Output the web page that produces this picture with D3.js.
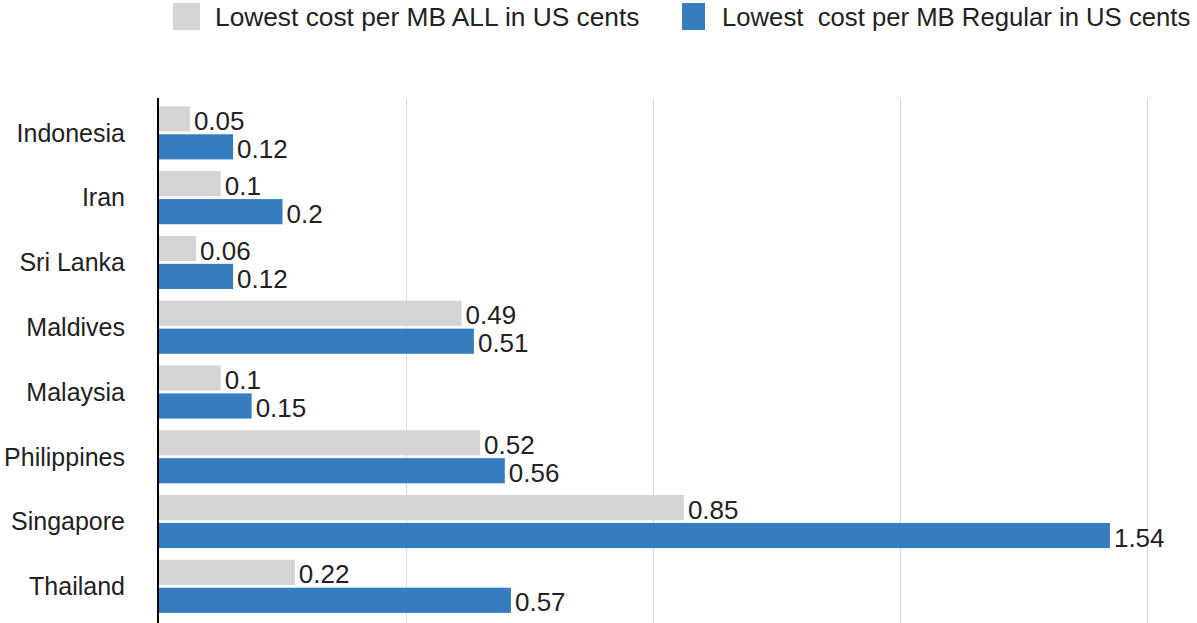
<!DOCTYPE html>
<html>
<head>
<meta charset="utf-8">
<script src="https://cdn.jsdelivr.net/npm/d3@7"></script>
<style>
    body { margin: 0; background: #fff; }
    svg { font-family: "Liberation Sans", Helvetica, Arial, sans-serif; }
    text { fill: #222; white-space: pre; }
</style>
</head>
<body>
<div id="chartDiv"></div>
<script>

var countries = ["Indonesia", "Iran", "Sri Lanka", "Maldives", "Malaysia", "Philippines", "Singapore", "Thailand"];
var costAll = [0.05, 0.1, 0.06, 0.49, 0.1, 0.52, 0.85, 0.22];
var costRegular = [0.12, 0.2, 0.12, 0.51, 0.15, 0.56, 1.54, 0.57];
var seriesNames = ["Lowest cost per MB ALL in US cents", "Lowest  cost per MB Regular in US cents"];
var seriesColors = ["#d4d4d4", "#367dc0"];
var gridTicks = [0.4, 0.8, 1.2, 1.6];

var width = 1197,
    height = 623;

var svg = d3.select("#chartDiv").append("svg")
    .attr("width", width)
    .attr("height", height);

var x = d3.scaleLinear()
    .domain([0, 1.6])
    .range([159, 1147]);

var y = d3.scaleBand()
    .domain(countries)
    .range([100.5, 618.7])
    .paddingInner(0.18)
    .paddingOuter(0.09);

var keys = ["all", "regular"];
var y1 = d3.scaleBand()
    .domain(keys)
    .range([0, y.bandwidth()])
    .paddingInner(0.1);

var data = countries.map(function (c, i) {
    return { country: c, all: costAll[i], regular: costRegular[i] };
});

// grid lines
svg.append("g")
    .attr("class", "grid")
    .selectAll("line")
    .data(gridTicks)
    .enter()
    .append("line")
    .attr("x1", function (d) { return Math.round(x(d)) + 0.5; })
    .attr("x2", function (d) { return Math.round(x(d)) + 0.5; })
    .attr("y1", 98)
    .attr("y2", height)
    .style("stroke", "#d9d9d9")
    .style("stroke-width", 1);

// bars
var groups = svg.selectAll(".group")
    .data(data)
    .enter()
    .append("g")
    .attr("class", "group")
    .attr("transform", function (d) { return "translate(0," + y(d.country) + ")"; });

groups.selectAll("rect")
    .data(function (d) {
        return keys.map(function (k, i) { return { key: k, value: d[k], idx: i }; });
    })
    .enter()
    .append("rect")
    .attr("x", x(0))
    .attr("y", function (d) { return y1(d.key); })
    .attr("height", y1.bandwidth())
    .attr("width", function (d) { return x(d.value) - x(0); })
    .style("fill", function (d) { return seriesColors[d.idx]; });

groups.selectAll(".val")
    .data(function (d) {
        return keys.map(function (k) { return { key: k, value: d[k] }; });
    })
    .enter()
    .append("text")
    .attr("class", "val")
    .attr("x", function (d) { return x(d.value) + 4; })
    .attr("y", function (d) { return y1(d.key) + y1.bandwidth() / 2 + 2; })
    .attr("dy", "0.35em")
    .style("font-size", "26px")
    .text(function (d) { return d.value; });

// y axis line
svg.append("line")
    .attr("x1", 158)
    .attr("x2", 158)
    .attr("y1", 98)
    .attr("y2", height)
    .style("stroke", "#000")
    .style("stroke-width", 2);

// category labels
svg.selectAll(".cat")
    .data(countries)
    .enter()
    .append("text")
    .attr("class", "cat")
    .attr("x", 125)
    .attr("y", function (d) { return y(d) + y.bandwidth() / 2; })
    .attr("dy", "0.35em")
    .style("text-anchor", "end")
    .style("font-size", "25px")
    .text(function (d) { return d; });

// legend
var legendX = [173, 682];
var legend = svg.selectAll(".legend")
    .data(seriesNames)
    .enter()
    .append("g")
    .attr("class", "legend")
    .attr("transform", function (d, i) { return "translate(" + legendX[i] + ",3)"; });

legend.append("rect")
    .attr("width", function (d, i) { return i == 0 ? 27 : 23; })
    .attr("height", 27)
    .style("fill", function (d, i) { return seriesColors[i]; });

legend.append("text")
    .attr("x", function (d, i) { return i == 0 ? 42 : 40; })
    .attr("y", 14)
    .attr("dy", "0.35em")
    .style("font-size", function (d, i) { return i == 0 ? "26.3px" : "25.7px"; })
    .text(function (d) { return d; });

</script>
</body>
</html>
